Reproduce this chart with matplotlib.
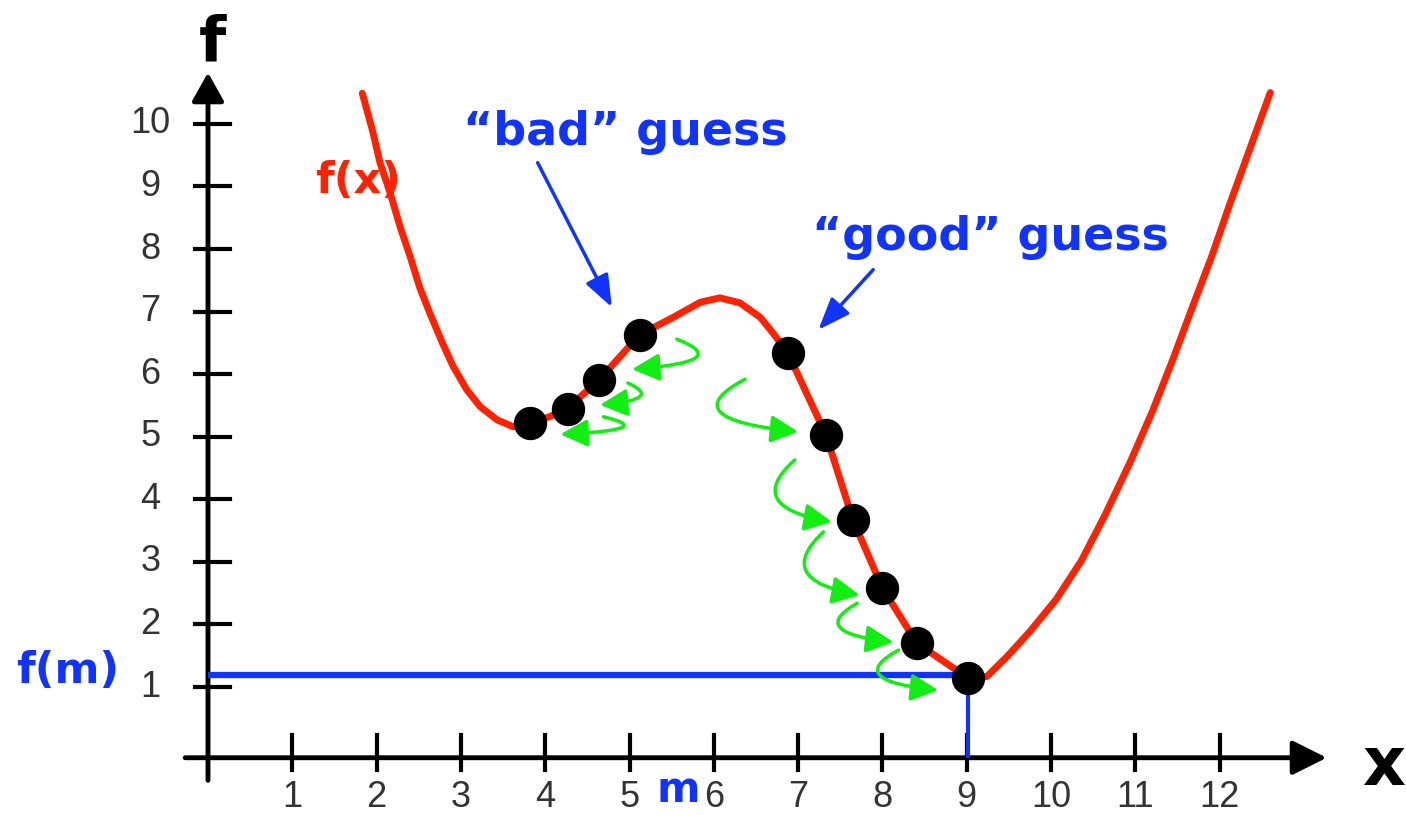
import matplotlib
matplotlib.use("Agg")
import matplotlib.pyplot as plt
from matplotlib.patches import FancyArrowPatch
from matplotlib.path import Path

# curve f(x)
curve_x = [1.83, 1.95, 2.04, 2.16, 2.28, 2.40, 2.51, 2.63, 2.78, 2.91, 3.07, 3.23, 3.43,
           3.62, 3.82, 4.05, 4.27, 4.64, 5.12, 5.52, 5.84, 6.07, 6.31, 6.55, 6.70, 6.87,
           7.33, 7.65, 8.00, 8.41, 9.02, 9.24, 9.48, 9.75, 10.06, 10.36, 10.64, 10.94,
           11.20, 11.44, 11.67, 11.91, 12.12, 12.36, 12.60]
curve_y = [10.49, 9.90, 9.38, 8.90, 8.35, 7.87, 7.39, 6.98, 6.50, 6.12, 5.75, 5.48, 5.27,
           5.16, 5.22, 5.32, 5.46, 5.91, 6.63, 6.91, 7.15, 7.22, 7.14, 6.91, 6.66, 6.36,
           5.03, 3.67, 2.58, 1.70, 1.14, 1.17, 1.49, 1.89, 2.40, 3.02, 3.75, 4.60,
           5.40, 6.22, 7.05, 7.90, 8.72, 9.61, 10.50]

# iterates (black dots)
bad_x = [3.82, 4.27, 4.64, 5.12]
bad_y = [5.22, 5.44, 5.91, 6.63]
good_x = [6.88, 7.33, 7.65, 8.00, 8.41, 9.02]
good_y = [6.34, 5.03, 3.67, 2.58, 1.70, 1.14]

# green step arrows (start -> tip)
good_steps = [((6.37, 5.92), (7.00, 5.08)),
              ((6.96, 4.63), (7.40, 3.64)),
              ((7.30, 3.48), (7.73, 2.47)),
              ((7.70, 2.34), (8.13, 1.72)),
              ((8.19, 1.59), (8.66, 0.95))]
bad_steps = [((5.56, 6.56), (5.03, 6.08)),
             ((4.98, 5.86), (4.65, 5.51)),
             ((4.69, 5.32), (4.18, 5.04))]

x_ticks = [1, 2, 3, 4, 5, 6, 7, 8, 9, 10, 11, 12]
y_ticks = [1, 2, 3, 4, 5, 6, 7, 8, 9, 10]
m_x = 9.02
fm_y = 1.19

RED = "#ff2200"
BLUE = "#1133ff"
GREEN = "#11ee11"

fig = plt.figure(figsize=(14.06, 8.15), dpi=100)
ax = fig.add_axes([0, 0, 1, 1])
ax.set_xlim(-2.467, 14.21)
ax.set_ylim(-1.045, 11.98)
ax.axis("off")

bold = dict(family="DejaVu Sans", fontweight="bold")
num = dict(family="Liberation Sans", fontsize=26, color="#333333")

# axes with arrows
ax.add_patch(FancyArrowPatch((-0.27, -0.13), (13.27, -0.13), arrowstyle="-|>,head_length=0.6,head_width=0.3",
                             mutation_scale=35, lw=3.5, color="black", shrinkA=0, shrinkB=0))
ax.add_patch(FancyArrowPatch((0, -0.49), (0, 10.82), arrowstyle="-|>,head_length=0.5,head_width=0.28",
                             mutation_scale=35, lw=3.5, color="black", shrinkA=0, shrinkB=0))
for t in x_ticks:
    ax.plot([t, t], [-0.33, 0.23], color="black", lw=3)
    ax.text(t, -0.76, str(t), ha="center", va="center", **num)
for t in y_ticks:
    ax.plot([-0.15, 0.26], [t, t], color="black", lw=3)
    ax.text(-0.68, t, str(t), ha="center", va="center", **num)

ax.text(0.05, 11.02, "f", ha="center", va="baseline", fontsize=45, color="black", **bold)
ax.text(13.96, -0.57, "x", ha="center", va="baseline", fontsize=48, color="black", **bold)

# f(m) guide lines
ax.plot([0, m_x], [fm_y, fm_y], color=BLUE, lw=4.5, solid_capstyle="butt")
ax.plot([m_x, m_x], [fm_y, -0.13], color=BLUE, lw=3, solid_capstyle="butt")
ax.text(-2.28, 1.07, "f(m)", ha="left", va="baseline", fontsize=31, color=BLUE, **bold)
ax.text(5.58, -0.84, "m", ha="center", va="baseline", fontsize=30, color=BLUE, **bold)

ax.text(1.27, 8.90, "f(x)", ha="left", va="baseline", fontsize=31, color=RED, **bold)
ax.plot(curve_x, curve_y, color=RED, lw=5, solid_capstyle="round", solid_joinstyle="round", zorder=3)


def hook(start, tip, curl):
    # quadratic hook: bulges sideways past the start, then runs into the tip
    sx, sy = start
    ex, ey = tip
    ctrl = (sx - curl * (ex - sx), ey + 0.25 * (sy - ey))
    path = Path([start, ctrl, tip], [Path.MOVETO, Path.CURVE3, Path.CURVE3])
    ax.add_patch(FancyArrowPatch(path=path, arrowstyle="-|>,head_length=1.1,head_width=0.55",
                                 mutation_scale=15, lw=2.5, color=GREEN, zorder=4))


for s, e in good_steps:
    hook(s, e, 1.4)
for s, e in bad_steps:
    hook(s, e, 1.3)

ax.plot(bad_x + good_x, bad_y + good_y, "o", color="black", markersize=23, zorder=5)

# labels with pointers
ax.text(3.02, 9.66, "\u201cbad\u201d guess", ha="left", va="baseline", fontsize=33, color=BLUE, **bold)
ax.text(7.17, 7.99, "\u201cgood\u201d guess", ha="left", va="baseline", fontsize=33, color=BLUE, **bold)
ax.add_patch(FancyArrowPatch((3.91, 9.38), (4.79, 7.07), arrowstyle="-|>,head_length=1.3,head_width=0.5",
                             mutation_scale=15, lw=2.5, color=BLUE, shrinkA=0, shrinkB=0))
ax.add_patch(FancyArrowPatch((7.89, 7.67), (7.24, 6.71), arrowstyle="-|>,head_length=1.3,head_width=0.5",
                             mutation_scale=15, lw=2.5, color=BLUE, shrinkA=0, shrinkB=0))

fig.savefig("out.png", dpi=100)
